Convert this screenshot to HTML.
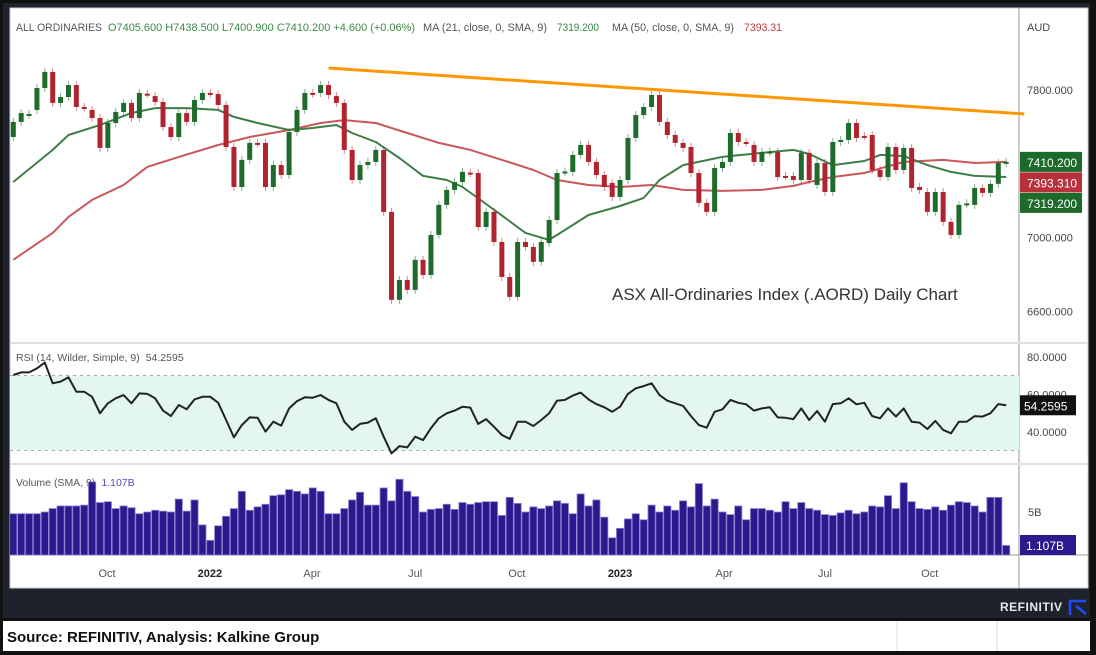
<!DOCTYPE html>
<html><head><meta charset="utf-8"><style>
html,body{margin:0;padding:0;background:#000;}
svg{display:block;font-family:"Liberation Sans",sans-serif;}
</style></head><body>
<svg id="c" width="1096" height="655" viewBox="0 0 1096 655" xmlns="http://www.w3.org/2000/svg">
<rect x="0" y="0" width="1096" height="655" fill="#111"/>
<rect x="3" y="3" width="1087" height="615" fill="#1e222d"/>
<rect x="10" y="8" width="1078" height="580" fill="#fff" stroke="#ccc"/>
<rect x="3" y="621" width="1087" height="30" fill="#fff"/>
<line x1="897" y1="621" x2="897" y2="651" stroke="#ddd"/>
<line x1="997" y1="621" x2="997" y2="651" stroke="#ddd"/>
<text x="7" y="642" font-size="15" font-weight="bold" fill="#111">Source: REFINITIV, Analysis: Kalkine Group</text>
<text x="1000" y="611" font-size="12" font-weight="bold" fill="#e8e8e8" letter-spacing="0.5">REFINITIV</text>
<path d="M1070 615 V601 H1086 M1076 606 L1086 614" stroke="#1e4bff" stroke-width="2.5" fill="none"/>
<line x1="1019" y1="8" x2="1019" y2="588" stroke="#999"/>
<line x1="10" y1="343" x2="1088" y2="343" stroke="#e0e0e0" stroke-width="2"/>
<line x1="10" y1="464" x2="1088" y2="464" stroke="#e0e0e0" stroke-width="2"/>
<line x1="10" y1="555" x2="1088" y2="555" stroke="#999"/>
<rect x="10" y="375.5" width="1009" height="75" fill="#e3f7f0"/>
<line x1="10" y1="375.5" x2="1019" y2="375.5" stroke="#aaa" stroke-dasharray="3,4"/>
<line x1="10" y1="450.5" x2="1019" y2="450.5" stroke="#aaa" stroke-dasharray="3,4"/>
<g font-size="11">
<text x="16" y="31" fill="#555" textLength="86" lengthAdjust="spacingAndGlyphs">ALL ORDINARIES</text>
<text x="108" y="31" fill="#3b8a45" textLength="307" lengthAdjust="spacingAndGlyphs">O7405.600  H7438.500  L7400.900  C7410.200  +4.600 (+0.06%)</text>
<text x="423" y="31" fill="#555" textLength="124" lengthAdjust="spacingAndGlyphs">MA (21, close, 0, SMA, 9)</text>
<text x="557" y="31" fill="#3b8a45" textLength="42" lengthAdjust="spacingAndGlyphs">7319.200</text>
<text x="612" y="31" fill="#555" textLength="122" lengthAdjust="spacingAndGlyphs">MA (50, close, 0, SMA, 9)</text>
<text x="744" y="31" fill="#c0393f" textLength="38" lengthAdjust="spacingAndGlyphs">7393.31</text>
</g>
<text x="16" y="361" font-size="10.5" fill="#555">RSI (14, Wilder, Simple, 9)<tspan dx="6">54.2595</tspan></text>
<text x="16" y="486" font-size="10.5" fill="#555">Volume (SMA, 9)<tspan dx="6" fill="#5a4bc0">1.107B</tspan></text>
<text x="612" y="300" font-size="17" fill="#333">ASX All-Ordinaries Index (.AORD) Daily Chart</text>
<text x="1027" y="31" font-size="11" fill="#444">AUD</text>
<g id="plot"></g>
</svg>
<script>
const opens=[7545,7627,7665,7692,7811,7898,7730,7762,7827,7708,7692,7648,7486,7621,7681,7730,7648,7780,7767,7735,7599,7545,7675,7627,7746,7784,7778,7719,7491,7274,7421,7513,7513,7274,7393,7339,7572,7692,7784,7784,7827,7767,7730,7475,7312,7393,7410,7475,7139,6662,6770,6716,6879,6797,7014,7177,7258,7301,7352,7350,7057,7139,6976,6786,6678,6976,6949,6868,6970,7095,7356,7356,7448,7502,7410,7339,7296,7220,7312,7540,7664,7708,7773,7627,7556,7513,7491,7350,7188,7139,7377,7410,7567,7518,7502,7410,7464,7464,7334,7334,7312,7459,7285,7404,7247,7518,7529,7621,7551,7556,7366,7328,7491,7366,7486,7274,7247,7139,7247,7085,7014,7182,7177,7269,7242,7291,7405.6];
const closes=[7627,7675,7670,7811,7898,7730,7762,7827,7708,7705,7648,7486,7621,7681,7730,7648,7784,7778,7735,7599,7545,7675,7627,7746,7784,7782,7719,7491,7274,7421,7513,7510,7274,7393,7339,7572,7692,7784,7780,7827,7773,7730,7475,7312,7393,7410,7475,7139,6662,6770,6716,6879,6797,7014,7177,7258,7301,7356,7350,7057,7139,6976,6786,6678,6976,6949,6868,6976,7095,7350,7358,7448,7502,7410,7339,7274,7220,7312,7540,7664,7708,7773,7627,7556,7513,7486,7350,7188,7139,7377,7410,7567,7518,7515,7410,7464,7466,7328,7332,7312,7459,7312,7404,7247,7518,7529,7621,7540,7549,7366,7328,7491,7366,7486,7269,7258,7139,7247,7085,7014,7177,7185,7269,7242,7291,7405,7410.2];
const ma21Idx=[0,5,7,11,15,18,22,26,28,31,35,38,41,43,46,49,52,55,57,60,65,68,70,73,77,80,82,85,90,95,99,101,104,108,110,113,116,119,122,126];
const ma21Vals=[7301,7475,7556,7610,7675,7702,7702,7692,7654,7621,7583,7594,7610,7567,7518,7431,7334,7312,7274,7182,7025,6987,7041,7122,7171,7215,7312,7393,7437,7459,7475,7453,7393,7415,7448,7442,7393,7356,7334,7328];
const ma50Idx=[0,5,7,10,14,17,21,26,30,35,39,42,46,50,54,58,62,66,69,73,77,81,85,90,95,99,101,104,108,113,118,122,126];
const ma50Vals=[6879,7025,7112,7204,7285,7383,7437,7502,7545,7583,7621,7637,7621,7567,7513,7475,7421,7366,7312,7285,7274,7285,7258,7253,7258,7280,7301,7328,7350,7410,7421,7404,7410];
const trendIdx=[40,128.3];
const trendVals=[7919,7670];
const rsiVals=[70.4,71.8,71.8,73.9,77.0,66.0,66.9,69.2,61.5,61.5,58.8,50.0,55.3,58.0,59.7,55.3,60.6,60.3,58.0,51.4,48.5,54.4,52.1,57.4,58.8,58.8,55.6,46.4,37.2,43.7,47.8,47.6,40.2,45.5,43.4,52.6,56.5,58.5,58.3,59.7,57.1,55.3,45.5,41.1,44.3,45.0,47.3,37.5,28.6,32.5,31.8,37.5,35.7,42.0,47.3,50.0,51.4,53.5,53.0,44.3,46.9,42.8,38.4,36.3,45.5,45.5,43.2,46.4,50.0,56.7,57.1,59.4,61.0,57.4,54.9,53.2,50.8,53.5,60.3,63.3,64.5,66.0,59.7,56.7,55.3,53.9,48.5,43.7,42.3,50.8,52.1,57.1,55.6,54.8,51.4,52.6,53.2,47.8,47.6,46.9,52.6,46.4,51.2,45.5,54.9,55.3,58.0,54.8,55.6,48.5,47.3,52.6,48.2,52.6,45.5,45.0,41.6,45.9,41.1,39.3,45.5,45.5,48.5,48.2,50.0,54.9,54.26];
const volVals=[4.8,4.8,4.8,4.8,5.0,5.4,5.7,5.7,5.7,5.8,8.5,6.1,6.2,5.4,5.7,5.5,4.8,5.0,5.2,5.1,5.0,6.5,5.1,6.4,3.5,1.7,3.4,4.5,5.4,7.4,5.2,5.6,5.9,6.9,7.0,7.6,7.4,7.1,7.8,7.4,4.8,4.8,5.4,6.4,7.3,5.8,5.8,7.8,6.3,8.8,7.4,6.8,5.0,5.3,5.4,5.9,5.3,6.1,5.9,6.1,6.2,6.2,4.6,6.7,6.0,5.0,5.6,5.4,5.7,6.3,6.0,4.8,7.1,5.7,6.4,4.4,2.0,3.1,4.2,4.8,4.1,5.8,5.0,5.7,5.2,6.3,5.6,8.3,5.7,6.5,5.0,4.7,5.7,4.1,5.4,5.4,5.2,5.0,6.2,5.4,6.1,5.4,5.2,4.7,4.6,4.9,5.2,4.8,5.0,5.7,5.6,6.9,5.4,8.4,6.2,5.4,5.3,5.6,5.2,5.8,6.2,6.1,5.7,5.0,6.7,6.7,1.107];
const priceTicks=[7800,7000,6600];
const rsiTicks=[80,60,40];
const volTicks=[5];
const timeLabels=['Oct','2022','Apr','Jul','Oct','2023','Apr','Jul','Oct'];
const timeIdx=[11.9,24.95,37.9,51,63.9,77,90.2,103,116.3];
const timeBold=[false,true,false,false,false,true,false,false,false];
const lastPrice=7410.2, lastMa50=7393.31, lastMa21=7319.2, lastRsi=54.2595, lastVolLabel='1.107B';

const NS='http://www.w3.org/2000/svg';
const plot=document.getElementById('plot');
const X=i=>13.3+7.88*i;
const Y=p=>90+(7800-p)*0.1844;
const YR=r=>357+(80-r)*1.875;
const YV=v=>555-v*8.6;
function mk(tag,attrs,parent){const e=document.createElementNS(NS,tag);for(const k in attrs)e.setAttribute(k,attrs[k]);(parent||plot).appendChild(e);return e;}

const defs=mk('defs',{});
const cp=mk('clipPath',{id:'mainclip'},defs);mk('rect',{x:10,y:40,width:1009,height:302},cp);
const gMain=mk('g',{'clip-path':'url(#mainclip)'});



function polyline(idx,vals,color,w,name,parent){
  const pts=idx.map((i,k)=>X(i).toFixed(1)+','+Y(vals[k]).toFixed(1)).join(' ');
  const l=mk('polyline',{points:pts,fill:'none',stroke:color,'stroke-width':w,'stroke-linejoin':'round'},parent);
  
  
}
polyline(ma50Idx,ma50Vals,'#c9575c',2,'ma50-line',gMain);
polyline(ma21Idx,ma21Vals,'#3f7d48',2,'ma21-line',gMain);

for(let i=0;i<opens.length;i++){
  const o=opens[i],c=closes[i],up=c>=o;
  const col=up?'#1f6b2c':'#b0242f';
  const hi=Math.max(o,c),lo=Math.min(o,c);
  const wk=mk('line',{x1:X(i),x2:X(i),y1:Y(hi)-4,y2:Y(lo)+4,stroke:col,'stroke-opacity':0.55,'stroke-width':1},gMain);
  
  
  const h=Math.max(2,Y(lo)-Y(hi));
  const b=mk('rect',{x:X(i)-2.5,y:Y(hi),width:5,height:h,fill:col},gMain);
  
  
}
const tl=mk('line',{x1:X(trendIdx[0]),y1:Y(trendVals[0]),x2:X(trendIdx[1]),y2:Y(trendVals[1]),stroke:'#ff9800','stroke-width':3});



priceTicks.forEach(p=>{
  const t=mk('text',{x:1027,y:Y(p)+4,'font-size':11,fill:'#444'});t.textContent=p.toFixed(3);
  
  
});
function tag(y,fill,txt,name){
  const g=mk('g',{});
  
  
  mk('rect',{x:1020,y:y-10,width:62,height:20,fill:fill},g);
  const t=mk('text',{x:1027,y:y+5,'font-size':12,fill:'#fff'},g);t.textContent=txt;
}
tag(Y(lastPrice),'#1d6b2b',lastPrice.toFixed(3),'last-price-tag');
tag(Y(lastPrice)+20.5,'#b8303a',lastMa50.toFixed(3),'ma50-tag');
tag(Y(lastPrice)+41,'#1d6b2b',lastMa21.toFixed(3),'ma21-tag');

const rp=rsiVals.map((r,i)=>X(i).toFixed(1)+','+YR(r).toFixed(1)).join(' ');
const rl=mk('polyline',{points:rp,fill:'none',stroke:'#222','stroke-width':2,'stroke-linejoin':'round'});


rsiTicks.forEach(r=>{
  const t=mk('text',{x:1027,y:YR(r)+4,'font-size':11,fill:'#444'});t.textContent=r.toFixed(4);
  
  
});
{const g=mk('g',{});


const y=YR(lastRsi);
mk('rect',{x:1020,y:y-10,width:56,height:20,fill:'#111'},g);
const t=mk('text',{x:1024,y:y+5,'font-size':12,fill:'#fff'},g);t.textContent=lastRsi.toFixed(4);}

volVals.forEach((v,i)=>{
  const b=mk('rect',{x:X(i)-3.6,y:YV(v),width:7.2,height:555-YV(v),fill:'#2b1a8e',stroke:'#8c80d0','stroke-width':0.8});
  
  
});
volTicks.forEach(v=>{
  const t=mk('text',{x:1028,y:YV(v)+4,'font-size':11,fill:'#444'});t.textContent=v+'B';
  
  
});
{const g=mk('g',{});


mk('rect',{x:1020,y:535,width:56,height:20,fill:'#2b1a8e'},g);
const t=mk('text',{x:1026,y:550,'font-size':12,fill:'#fff'},g);t.textContent=lastVolLabel;}

timeLabels.forEach((s,k)=>{
  const t=mk('text',{x:X(timeIdx[k]),y:577,'font-size':11,'text-anchor':'middle',fill:timeBold[k]?'#222':'#555','font-weight':timeBold[k]?'bold':'normal'});
  t.textContent=s;
  
  
});
</script>
</body></html>
